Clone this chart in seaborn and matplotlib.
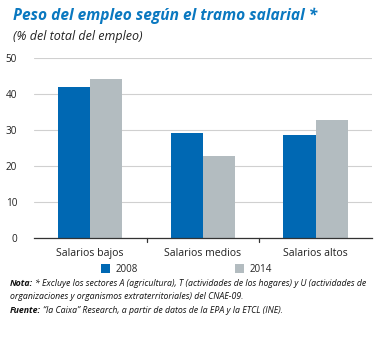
import matplotlib
matplotlib.use("Agg")
import matplotlib.pyplot as plt
import seaborn as sns
import pandas as pd
from matplotlib.patches import Patch

categories = ["Salarios bajos", "Salarios medios", "Salarios altos"]
years = ["2008", "2014"]
values_2008 = [42.0, 29.2, 28.5]
values_2014 = [44.1, 22.9, 32.7]
yticks = [0, 10, 20, 30, 40, 50]

df = pd.DataFrame({
    "cat": categories * 2,
    "year": [years[0]] * 3 + [years[1]] * 3,
    "val": values_2008 + values_2014,
})

sns.set_theme(style="white")
plt.rcParams["font.family"] = ["Open Sans", "DejaVu Sans"]

blue = "#0068b3"
grey = "#b3bcc0"
title_blue = "#0a78c0"

fig = plt.figure(figsize=(3.81, 3.38), dpi=100)
fig.patch.set_facecolor("white")
ax = fig.add_axes([0.089, 0.296, 0.887, 0.532])

sns.barplot(data=df, x="cat", y="val", hue="year", palette=[blue, grey],
            width=0.57, gap=0, ax=ax, legend=False, saturation=1,
            edgecolor="none", linewidth=0)

ax.set_ylim(0, 50)
ax.set_yticks(yticks)
ax.set_yticklabels([str(t) for t in yticks], fontsize=7.2, color="#222222")
ax.yaxis.grid(True, color="#d0d0d0", linewidth=0.8)
ax.set_axisbelow(True)
ax.set_xlim(-0.5, 2.5)
ax.set_xlabel("")
ax.set_ylabel("")
for s in ["top", "right", "left"]:
    ax.spines[s].set_visible(False)
ax.spines["bottom"].set_color("#333333")
ax.spines["bottom"].set_linewidth(0.9)
ax.tick_params(axis="y", length=0, pad=12)
ax.tick_params(axis="x", length=0, pad=7, labelsize=7.6, colors="#222222")
for xb in [0.5, 1.5]:
    ax.plot([xb, xb], [0, -1.0], color="#333333", linewidth=0.9, clip_on=False)

handles = [Patch(facecolor=blue, edgecolor="none"), Patch(facecolor=grey, edgecolor="none")]
fig.legend(handles, years, loc="center", bbox_to_anchor=(0.49, 0.203), ncol=2,
           frameon=False, fontsize=7, handlelength=0.9, handleheight=0.9,
           columnspacing=10, handletextpad=0.6)

fig.text(0.033, 0.940, "Peso del empleo según el tramo salarial *", fontsize=11.2,
         fontweight="bold", fontstyle="italic", color=title_blue)
fig.text(0.033, 0.882, "(% del total del empleo)", fontsize=9, fontstyle="italic",
         color="#222222")

nfs = 6.3
fig.canvas.draw()
renderer = fig.canvas.get_renderer()


def bold_then(x, y, bold, rest):
    t = fig.text(x, y, bold, fontsize=nfs, fontweight="bold", fontstyle="italic", color="#111111")
    bb = t.get_window_extent(renderer=renderer)
    x2 = bb.x1 / fig.bbox.width + 0.006
    fig.text(x2, y, rest, fontsize=nfs, fontstyle="italic", color="#111111")


bold_then(0.026, 0.155, "Nota:",
          "* Excluye los sectores A (agricultura), T (actividades de los hogares) y U (actividades de")
fig.text(0.026, 0.114, "organizaciones y organismos extraterritoriales) del CNAE-09.",
         fontsize=nfs, fontstyle="italic", color="#111111")
bold_then(0.026, 0.073, "Fuente:",
          "\u201cla Caixa\u201d Research, a partir de datos de la EPA y la ETCL (INE).")

fig.savefig("out.png", dpi=100)
